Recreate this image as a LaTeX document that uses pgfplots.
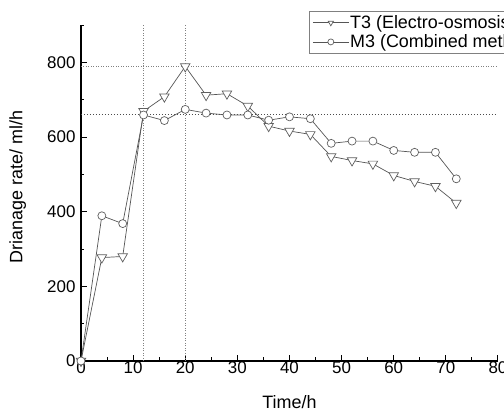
\documentclass[border=0pt]{standalone}
\usepackage{fontspec}
\setmainfont{Liberation Sans}
\usepackage{pgfplots}
\pgfplotsset{compat=1.18}
\definecolor{ln}{RGB}{85,85,85}
\definecolor{mk}{RGB}{95,95,95}
\begin{document}
\begin{tikzpicture}
\useasboundingbox (-81bp,-49bp) rectangle (423bp,361bp);
\begin{axis}[
  at={(0bp,0bp)}, anchor=south west,
  scale only axis, width=417bp, height=336bp,
  xmin=0, xmax=80, ymin=0, ymax=900,
  separate axis lines,
  axis x line=bottom, axis y line=left,
  axis line style={-, line width=1.3bp, black},
  xtick={0,10,...,80}, minor xtick={5,15,...,75},
  ytick={0,200,...,800}, minor ytick={100,300,...,900},
  tick align=inside, major tick length=6bp, minor tick length=3.5bp,
  tick style={black, line width=1bp},
  ticklabel style={font=\fontsize{17}{20}\selectfont},
  xticklabel style={yshift=3bp},
  yticklabel style={xshift=-2bp},
  /pgf/number format/assume math mode=true,
  xlabel={Time/h},
  ylabel={Drianage rate/ ml/h},
  label style={font=\fontsize{18}{21}\selectfont},
  xlabel style={at={(axis description cs:0.5,0)}, anchor=north, yshift=-31bp},
  ylabel style={at={(axis description cs:-0.152,0.518)}, anchor=center},
  legend cell align=left,
  legend style={at={(rel axis cs:0.547,1.042)}, anchor=north west, draw=gray, line width=0.8bp,
    font=\fontsize{18}{21}\selectfont, nodes={inner xsep=1bp, inner ysep=2.3bp},
    row sep=0bp, column sep=0bp},
  legend image code/.code={\draw[mark repeat=2,mark phase=2,#1,mark size=3bp] plot coordinates {(0bp,0bp) (18bp,0bp) (36bp,0bp)};},
]
% reference lines
\addplot[forget plot, gray, line width=0.8bp, dash pattern=on 1bp off 1.5bp] coordinates {(12,0) (12,900)};
\addplot[forget plot, gray, line width=0.8bp, dash pattern=on 1bp off 1.5bp] coordinates {(20,0) (20,900)};
\addplot[forget plot, gray, line width=0.8bp, dash pattern=on 1bp off 1.5bp] coordinates {(0,790) (80,790)};
\addplot[forget plot, black!70, line width=0.8bp, dash pattern=on 1.5bp off 1.5bp] coordinates {(0,660) (80,660)};
% T3
\addplot[color=ln, line width=0.7bp, mark=triangle*, mark size=5.5bp,
  mark options={fill=white, draw=mk, rotate=180, line width=0.7bp, solid}] coordinates {
(0,0) (4,277) (8,280) (12,669) (16,708) (20,789) (24,712) (28,716) (32,683) (36,629)
(40,616) (44,607) (48,548) (52,537) (56,528) (60,497) (64,481) (68,468) (72,423)};
\addlegendentry{T3 (Electro-osmosis)}
% M3
\addplot[color=ln, line width=0.7bp, mark=*, mark size=4bp,
  mark options={fill=white, draw=mk, line width=0.7bp, solid}] coordinates {
(0,0) (4,389) (8,368) (12,659) (16,644) (20,674) (24,664) (28,659) (32,659) (36,645)
(40,654) (44,649) (48,583) (52,589) (56,589) (60,564) (64,559) (68,559) (72,488)};
\addlegendentry{M3 (Combined method)}
\end{axis}
\end{tikzpicture}
\end{document}
